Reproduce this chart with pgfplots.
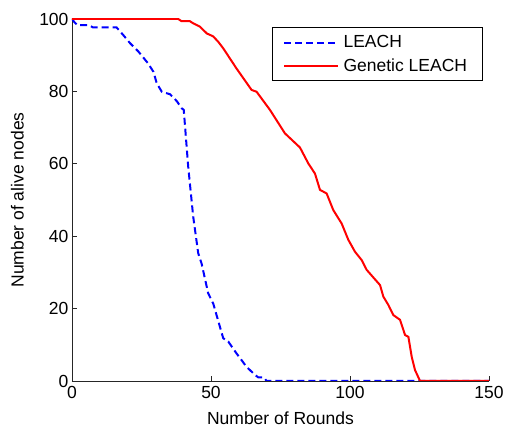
\documentclass[border=0pt]{standalone}
\usepackage{fontspec}
\setmainfont{Liberation Sans}
\usepackage{pgfplots}
\pgfplotsset{compat=1.18}
\begin{document}
\begin{tikzpicture}
\begin{axis}[
  scale only axis,
  width=417pt, height=362pt,
  xmin=0, xmax=150, ymin=0, ymax=100,
  xtick={0,50,100,150}, ytick={0,20,40,60,80,100},
  axis lines*=left,
  axis line style={line width=0.8pt, black!85},
  tick style={line width=0.8pt, black!85},
  tick align=inside, major tick length=5pt,
  /pgf/number format/assume math mode=true,
  font=\fontsize{17.5}{20}\selectfont,
  ticklabel style={font=\fontsize{17.5}{20}\selectfont},
  xticklabel style={yshift=-2pt},
  xlabel={Number of Rounds}, ylabel={Number of alive nodes},
  every axis x label/.style={at={(axis description cs:0.5,-0.1022)}, anchor=center},
  every axis y label/.style={at={(axis description cs:-0.1307,0.5)}, rotate=90, anchor=center},
  legend style={at={(rel axis cs:0.9856,0.977)}, anchor=north east, draw=black, line width=0.8pt,
    font=\fontsize{17.5}{20}\selectfont, inner xsep=11pt, inner ysep=6pt, row sep=5pt,
    nodes={inner xsep=4.5pt}},
  legend cell align=left,
  legend image code/.code={\draw[#1] (0pt,0pt) -- (54pt,0pt);},
]
\addplot[blue, line width=2pt, dash pattern=on 7pt off 4pt] coordinates {
(0,100)(1,99)(2,98.3)(6,98.3)(7.5,97.7)(16,97.7)(18.4,95.6)(20.9,93.3)(23.9,91)(27.4,87.7)(29.3,85.4)(30.5,82.2)(32.3,79.9)(35.3,79.2)(37.7,77.3)(39.5,75.3)(40.2,74.9)(41.8,59.2)(43.6,45.4)(45.4,35.3)(46.6,32.5)(49,24.2)(50.8,21.4)(53.2,15)(54.4,11.8)(56.2,10.9)(59.2,7.6)(62.8,3.9)(65.8,1.7)(67,1)(69,1)(70,0)(150,0)
};
\addlegendentry{LEACH}
\addplot[red, line width=2pt] coordinates {
(0,100)(38.2,100)(39.4,99.4)(42.4,99.4)(43.6,98.8)(46,97.9)(48.5,96)(50.8,95.2)(52.6,93.7)(54.4,91.9)(59.2,86.3)(64.6,80.4)(66.4,79.9)(71.2,74.9)(76.6,68.4)(82,64.5)(85,60.1)(87.4,57.3)(89.2,52.8)(91.6,51.8)(94,47.2)(97,43.5)(99.4,39)(101.8,35.7)(104.2,33.4)(106,30.7)(110.8,26.5)(112,23.3)(113.8,21)(115.6,18.2)(118,16.9)(119.8,12.7)(121,12.2)(122.2,6.7)(123.4,3)(125.2,0)(150,0)
};
\addlegendentry{Genetic LEACH}
\end{axis}
\pgfresetboundingbox
\path[use as bounding box] (-72pt,-49pt) rectangle (435pt,381pt);
\end{tikzpicture}
\end{document}
